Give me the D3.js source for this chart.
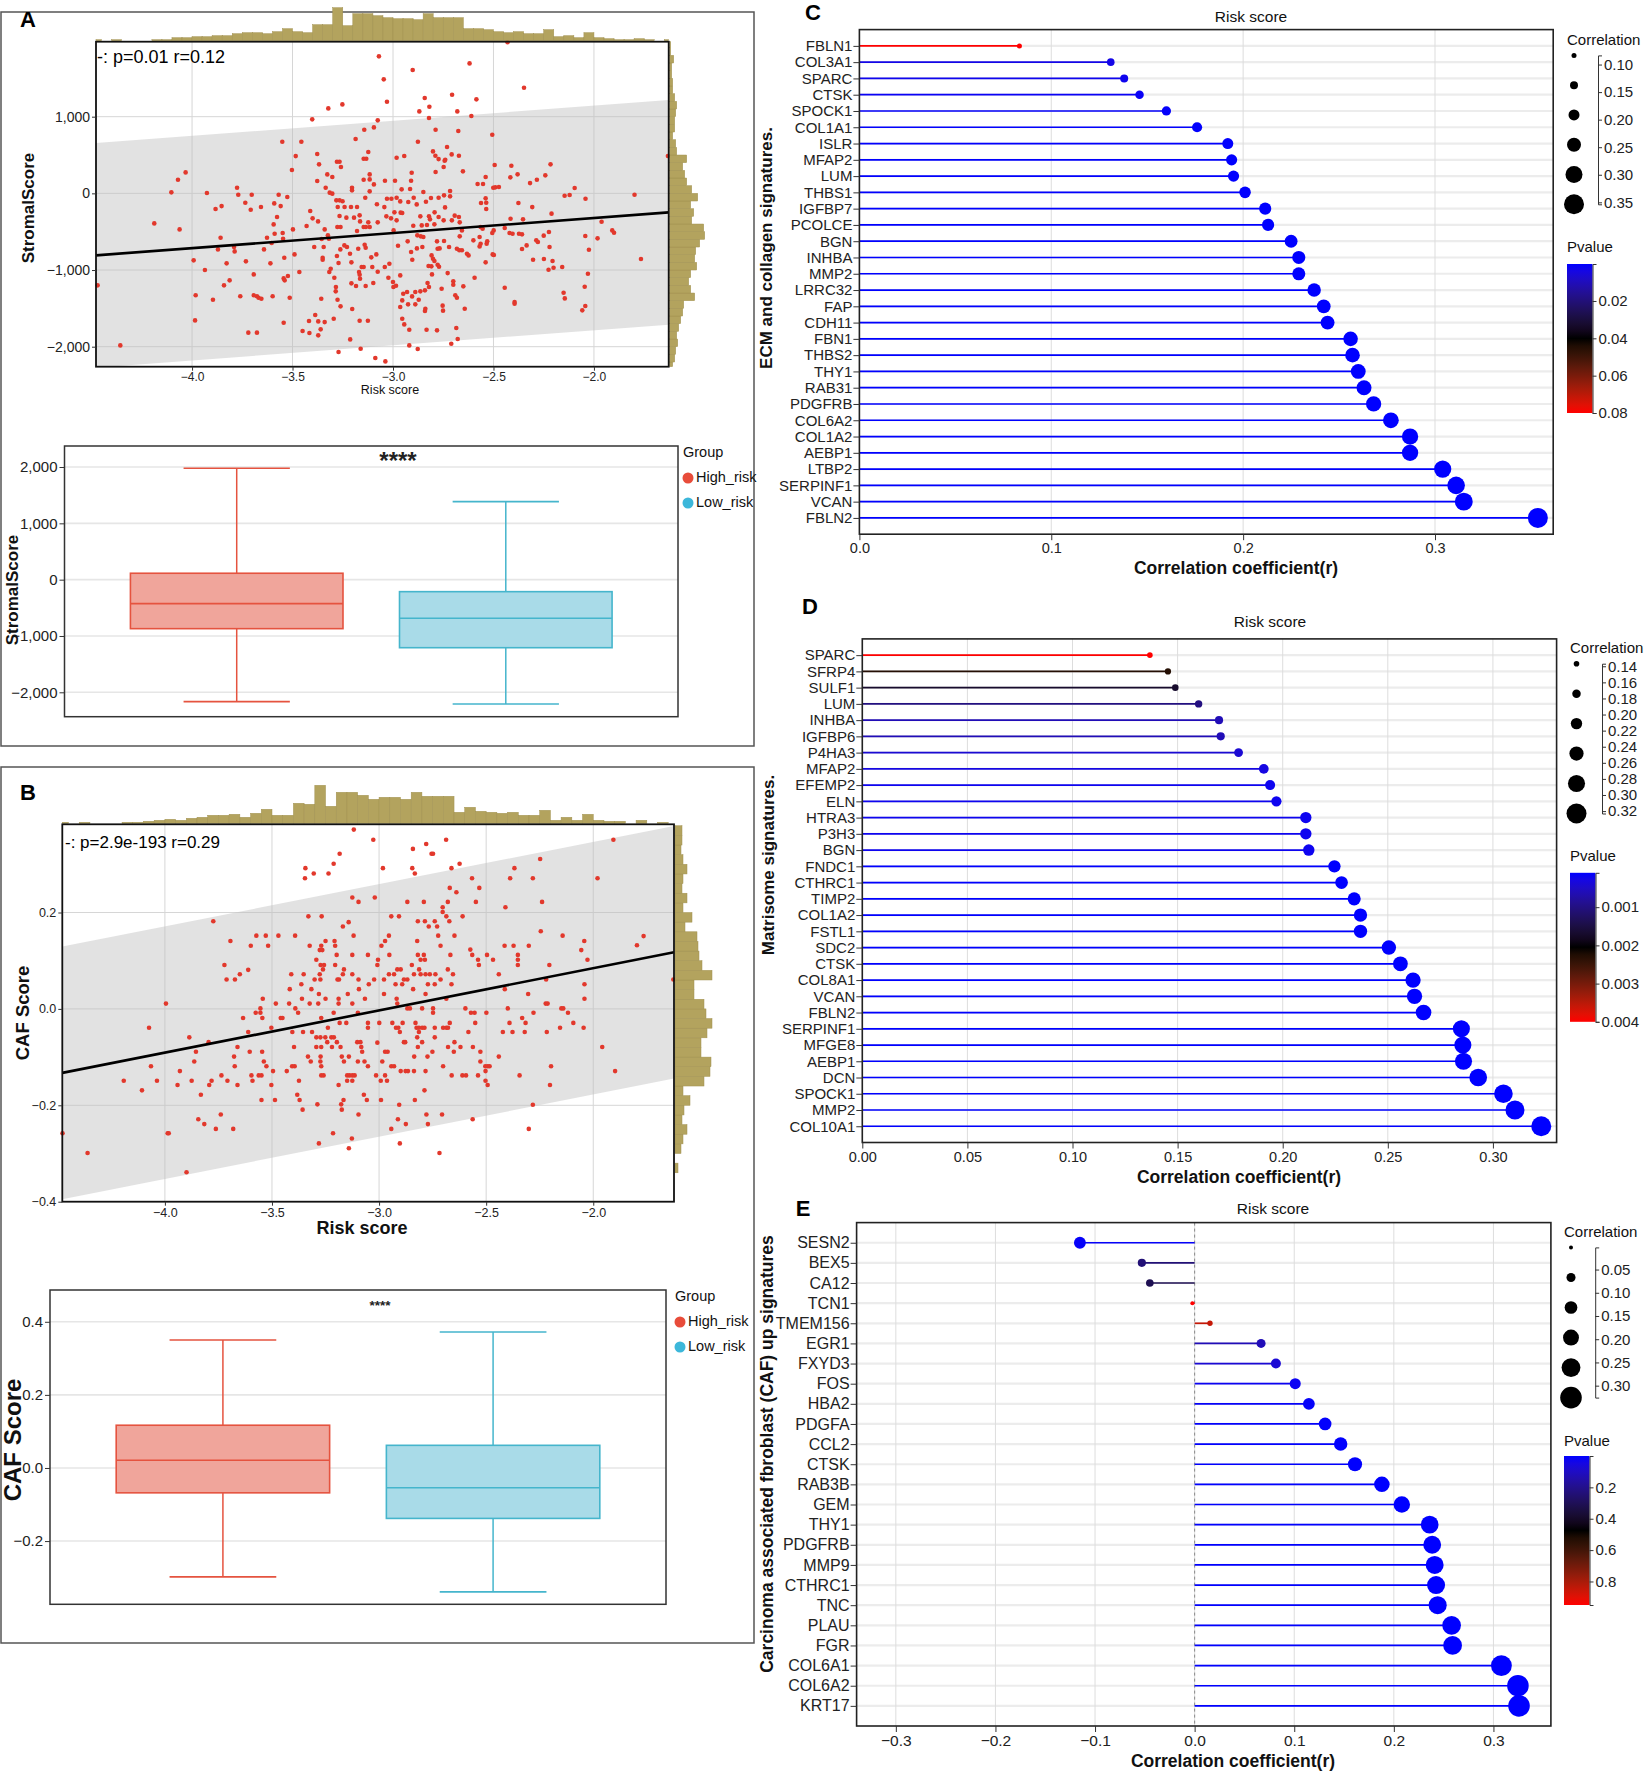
<!DOCTYPE html>
<html lang="en">
<head>
<meta charset="UTF-8">
<title>Risk score, stromal / CAF scores and signature correlations</title>
<script src="https://d3js.org/d3.v7.min.js"></script>
<style>
  body { margin: 0; background: #fff; }
</style>
</head>
<body>
<div id="fig"></div>
<script>
// ---------- data ----------
// A: risk score vs StromalScore
const stromalPoints = [
[-3.070,1787],[-3.322,1108],[-3.252,1160],[-3.402,965],[-3.076,952],[-3.095,860],[-3.143,830],[-3.186,708],[-3.551,673],[-3.456,673],[-3.123,539],[-3.484,486],[-3.377,513],[-3.279,413],[-3.266,413],[-3.368,378],[-3.259,343],[-3.146,452],[-3.133,452],[-3.503,304],[-4.032,273],[-4.070,178],[-4.103,13],[-3.926,4],[-3.776,73],[-3.770,-18],[-3.703,-18],[-3.735,-122],[-3.708,-213],[-3.657,-178],[-3.883,-205],[-3.853,-166],[-3.591,-131],[-3.569,-18],[-3.526,-48],[-3.559,-166],[-4.188,-392],[-4.062,-470],[-3.858,-579],[-3.594,-405],[-3.577,-309],[-3.498,-470],[-3.547,-592],[-3.627,-579],[-3.604,-648],[-3.430,-426],[-3.412,-231],[-3.400,-326],[-3.373,-366],[-3.340,-470],[-3.377,161],[-3.335,73],[-3.327,247],[-3.302,213],[-3.315,9],[-3.302,-4],[-3.282,-91],[-3.266,-91],[-3.251,-104],[-3.275,-178],[-3.241,-178],[-3.204,73],[-3.204,39],[-3.209,-178],[-3.179,-178],[-3.266,-296],[-3.232,-317],[-3.194,-317],[-3.166,-287],[-3.123,-378],[-3.076,-378],[-3.146,178],[-3.116,247],[-3.116,182],[-3.095,117],[-3.116,26],[-3.080,-143],[-3.138,-57],[-3.146,-439],[-3.135,-439],[-3.116,-439],[-3.164,-366],[-3.179,-491],[-3.277,-439],[-3.261,-439],[-3.324,-548],[-3.319,-592],[-3.355,-596],[-3.392,-700],[-3.350,-839],[-3.350,-866],[-3.310,-983],[-3.292,-1100],[-3.284,-1222],[-3.271,-909],[-3.279,-818],[-3.262,-731],[-3.242,-679],[-3.229,-700],[-3.214,-787],[-3.207,-900],[-3.169,-1026],[-3.166,-1061],[-3.164,-1113],[-3.156,-961],[-3.146,-961],[-3.141,-670],[-3.136,-709],[-3.173,-722],[-3.108,-835],[-3.083,-796],[-3.103,-961],[-3.076,-1022],[-3.098,-1170],[-3.136,-1209],[-3.184,-1209],[-3.207,-1174],[-3.357,-1374],[-3.285,-1278],[-3.276,-1387],[-3.261,-1474],[-3.203,-1509],[-3.166,-1661],[-3.125,-1661],[-3.295,-1635],[-3.340,-1679],[-3.372,-1670],[-3.418,-1665],[-3.387,-1587],[-3.360,-1774],[-3.372,-1852],[-3.416,-1822],[-3.450,-1796],[-3.544,-1687],[-3.514,-1361],[-3.599,-1343],[-3.693,-1330],[-3.677,-1343],[-3.669,-1361],[-3.655,-1374],[-3.760,-1343],[-3.693,-1057],[-3.544,-1109],[-3.539,-1135],[-3.523,-1078],[-3.466,-1026],[-3.610,-913],[-3.541,-839],[-3.642,-731],[-3.732,-887],[-3.828,-913],[-3.788,-757],[-3.791,-700],[-3.871,-731],[-3.992,-874],[-3.936,-1000],[-3.841,-1200],[-3.813,-1135],[-3.982,-1330],[-3.896,-1387],[-3.985,-1657],[-3.720,-1817],[-3.677,-1817],[-4.357,-1983],[-4.470,-1200],[-3.271,-2070],[-3.161,-2026],[-3.088,-2148],[-3.213,-1905],[-3.317,-1026],[-3.345,-700],[-3.549,-517],[-3.589,-526],[-3.490,-796],
[-3.046,1487],[-3.030,1195],[-2.902,1608],[-2.619,1695],[-2.348,1378],[-2.842,1243],[-2.819,1130],[-2.869,1069],[-2.821,982],[-2.706,1287],[-2.585,1226],[-2.680,1069],[-2.610,1008],[-2.788,830],[-2.675,813],[-2.876,674],[-2.506,765],[-2.731,604],[-2.801,547],[-2.789,491],[-2.773,447],[-2.743,426],[-2.740,439],[-2.708,508],[-2.672,491],[-2.748,343],[-2.788,278],[-2.652,287],[-2.982,465],[-2.944,487],[-2.907,269],[-2.910,165],[-3.040,165],[-2.990,165],[-2.957,52],[-2.915,56],[-2.849,17],[-3.030,-70],[-3.008,-70],[-2.982,-57],[-3.043,-179],[-2.964,-105],[-2.924,-113],[-2.897,-57],[-2.882,-144],[-2.836,-109],[-2.811,-61],[-2.773,-57],[-2.746,-26],[-2.716,-39],[-2.716,30],[-2.741,-183],[-2.993,-248],[-2.962,-252],[-2.954,-257],[-3.010,-326],[-2.982,-352],[-3.033,-300],[-2.864,-300],[-2.821,-300],[-2.816,-339],[-2.793,-248],[-2.773,-309],[-2.748,-352],[-2.707,-352],[-2.693,-291],[-2.672,-309],[-2.668,-378],[-2.899,-422],[-2.857,-418],[-2.831,-413],[-2.794,-404],[-2.997,-483],[-2.879,-548],[-2.862,-561],[-2.849,-570],[-2.975,-683],[-2.927,-626],[-2.910,-765],[-2.904,-866],[-2.881,-718],[-2.854,-700],[-2.808,-809],[-2.801,-853],[-2.794,-883],[-2.778,-722],[-2.768,-718],[-2.781,-626],[-2.746,-622],[-2.721,-700],[-2.682,-722],[-2.670,-743],[-2.657,-743],[-2.668,-561],[-2.657,-483],[-2.823,-948],[-2.809,-952],[-2.778,-931],[-2.771,-957],[-2.806,-1057],[-2.728,-1040],[-2.700,-1148],[-2.700,-1192],[-2.650,-1213],[-2.828,-1170],[-2.821,-1222],[-2.841,-1265],[-2.889,-1287],[-2.864,-1278],[-2.758,-1244],[-2.690,-1330],[-2.682,-1361],[-2.930,-1287],[-2.949,-1309],[-2.954,-1396],[-2.905,-1344],[-2.925,-1448],[-2.889,-1448],[-2.872,-1387],[-2.839,-1505],[-2.841,-1535],[-2.753,-1465],[-2.751,-1530],[-2.643,-1505],[-2.964,-1483],[-2.954,-1635],[-2.944,-1709],[-2.919,-1779],[-2.833,-1779],[-2.781,-1787],[-2.685,-1757],[-2.678,-1900],[-2.710,-1961],[-2.919,-1983],[-2.877,-2031],[-3.038,-2192],[-2.964,-1070],[-3.000,-1157],[-3.023,-1100],[-2.998,-1222],[-2.985,-1205],[-3.018,-918],[-3.041,-961],[-2.594,-1100],[-2.539,-900],[-2.564,-657],[-2.534,-657],[-2.531,-626],[-2.569,-692],[-2.632,-787],[-2.624,-809],[-2.600,-613],[-2.569,-570],[-2.564,-439],[-2.554,-461],[-2.499,-483],[-2.506,-517],[-2.504,-796],[-2.498,-804],[-2.444,-1231],[-2.395,-1418],[-2.395,-1440],[-2.444,-452],[-2.420,-517],[-2.405,-526],[-2.373,-526],[-2.358,-535],[-2.415,-331],[-2.353,-339],[-2.562,-126],[-2.536,-122],[-2.536,-205],[-2.539,-65],[-2.579,121],[-2.552,121],[-2.539,213],[-2.501,73],[-2.491,78],[-2.473,82],[-2.494,369],[-2.411,360],[-2.416,209],[-2.380,248],[-2.376,-126],[-2.307,-179],[-2.318,134],[-2.284,178],[-2.242,235],[-2.216,378],[-2.211,-265],[-2.287,-613],[-2.279,-635],[-2.335,-679],[-2.358,-726],[-2.303,-866],[-2.250,-552],[-2.224,-505],[-2.221,-700],[-2.249,-857],[-2.206,-883],[-2.226,-996],[-2.201,-970],[-2.158,-961],[-2.151,-1296],[-2.145,-1370],[-2.146,-31],[-2.121,-22],[-2.096,69],[-2.042,-70],[-2.043,-557],[-1.982,-587],[-2.025,-735],[-1.962,-370],[-1.909,-483],[-1.900,-513],[-1.798,-18],[-1.766,-857],[-2.030,-1048],[-2.046,-1218],[-2.043,-1470],[-2.058,-1526],[-1.632,487],[-2.430,1970]
];
const stromalFit = [[-4.478, -809], [-1.628, -248]];
const stromalBand = [[-4.478, 656, -2274], [-1.628, 1217, -1713]];   // [risk, upper, lower]
const stromalHistTop = [1,0,1,0,0,0,1,1,3,3,4,4,5,5,7,8,8,7,9,12,9,8,16,16,33,15,27,27,25,23,22,22,21,27,23,23,23,12,12,11,9,8,9,7,7,11,4,5,3,8,3,2,1,1,2,1,0,1];  // bins of 0.05 from -4.5
const stromalHistRight = [3,5,6,8,7,9,11,13,14,25,21,19,21,27,25,26,30,35,34,22,24,21,28,22,17,15,13,17,7,6,3,5,5,6,7,5,3,3,2,2,4,1,1];  // bins of 100 from -2300
const stromalBox = [
  {group: "High_risk", min: -2165, q1: -870, med: -426, q3: 114, max: 1977},
  {group: "Low_risk",  min: -2208, q1: -1208, med: -686, q3: -213, max: 1385}
];

// B: risk score vs CAF score
const cafPoints = [
[-3.118,0.372],[-3.184,0.322],[-3.212,0.301],[-3.344,0.292],[-3.346,0.271],[-3.305,0.281],[-3.236,0.281],[-3.125,0.231],[-3.096,0.222],[-3.774,0.182],[-3.330,0.192],[-3.268,0.192],[-3.169,0.171],[-3.142,0.180],[-3.694,0.141],[-3.573,0.152],[-3.529,0.152],[-3.470,0.152],[-3.392,0.152],[-3.599,0.131],[-3.518,0.131],[-3.324,0.131],[-3.270,0.131],[-3.250,0.141],[-3.208,0.141],[-3.277,0.122],[-3.265,0.122],[-3.205,0.131],[-3.198,0.112],[-3.119,0.152],[-3.125,0.112],[-3.052,0.112],[-3.722,0.091],[-3.712,0.061],[-3.673,0.061],[-3.650,0.072],[-3.611,0.081],[-3.293,0.102],[-3.273,0.091],[-3.257,0.091],[-3.262,0.082],[-3.205,0.091],[-3.164,0.082],[-3.169,0.072],[-3.410,0.072],[-3.352,0.072],[-3.277,0.072],[-3.363,0.051],[-3.301,0.061],[-3.274,0.061],[-3.187,0.061],[-3.194,0.061],[-3.125,0.072],[-3.096,0.061],[-3.048,0.051],[-3.417,0.041],[-3.316,0.041],[-3.281,0.031],[-3.250,0.021],[-3.543,0.021],[-3.482,0.011],[-3.420,0.011],[-3.391,0.001],[-3.360,0.021],[-3.324,0.011],[-3.284,0.011],[-3.189,0.021],[-3.189,0.011],[-3.146,0.031],[-3.125,0.011],[-3.094,0.041],[-3.066,0.021],[-3.995,0.011],[-3.554,0.001],[-3.576,-0.008],[-3.554,-0.008],[-3.545,-0.019],[-3.635,-0.019],[-3.459,-0.019],[-3.451,-0.019],[-3.378,-0.008],[-3.503,-0.039],[-3.611,-0.048],[-3.405,-0.048],[-3.355,-0.048],[-3.313,-0.048],[-3.270,-0.019],[-3.212,-0.008],[-3.099,-0.008],[-3.239,-0.039],[-3.184,-0.029],[-3.153,-0.029],[-3.052,-0.029],[-3.052,-0.039],[-4.074,-0.039],[-3.886,-0.059],[-3.796,-0.069],[-3.661,-0.079],[-3.855,-0.089],[-3.863,-0.109],[-4.065,-0.119],[-3.930,-0.129],[-3.677,-0.099],[-3.674,-0.119],[-3.604,-0.089],[-3.546,-0.089],[-3.538,-0.109],[-3.526,-0.119],[-3.397,-0.079],[-3.394,-0.119],[-3.406,-0.119],[-3.332,-0.099],[-3.319,-0.109],[-3.293,-0.059],[-3.274,-0.059],[-3.251,-0.059],[-3.223,-0.059],[-3.211,-0.059],[-3.293,-0.079],[-3.270,-0.079],[-3.242,-0.069],[-3.220,-0.079],[-3.273,-0.099],[-3.274,-0.109],[-3.270,-0.119],[-3.197,-0.069],[-3.180,-0.079],[-3.174,-0.099],[-3.164,-0.109],[-3.141,-0.099],[-3.102,-0.069],[-3.087,-0.069],[-3.079,-0.089],[-3.083,-0.079],[-3.099,-0.109],[-3.068,-0.109],[-3.052,-0.119],[-3.431,-0.129],[-3.495,-0.129],[-3.596,-0.138],[-3.562,-0.138],[-3.549,-0.138],[-3.736,-0.138],[-3.708,-0.149],[-3.661,-0.158],[-3.782,-0.149],[-3.793,-0.158],[-3.875,-0.149],[-3.941,-0.158],[-4.037,-0.149],[-4.192,-0.149],[-4.107,-0.169],[-3.832,-0.178],[-3.591,-0.149],[-3.503,-0.158],[-3.374,-0.149],[-3.270,-0.138],[-3.259,-0.138],[-3.189,-0.158],[-3.149,-0.138],[-3.138,-0.138],[-3.125,-0.138],[-3.114,-0.138],[-3.149,-0.149],[-3.125,-0.149],[-3.549,-0.189],[-3.486,-0.189],[-3.382,-0.178],[-3.371,-0.189],[-3.357,-0.209],[-3.288,-0.198],[-3.177,-0.198],[-3.174,-0.209],[-3.166,-0.189],[-3.071,-0.178],[-3.057,-0.189],[-3.096,-0.219],[-3.844,-0.229],[-3.816,-0.239],[-3.762,-0.249],[-3.739,-0.219],[-3.681,-0.249],[-3.987,-0.258],[-3.982,-0.258],[-4.478,-0.258],[-4.361,-0.299],[-3.899,-0.339],[-3.281,-0.279],[-3.215,-0.258],[-3.141,-0.289],[-3.127,-0.269],
[-3.027,0.351],[-2.780,0.342],[-2.687,0.351],[-2.842,0.332],[-2.755,0.322],[-2.748,0.322],[-2.982,0.292],[-2.845,0.292],[-2.833,0.281],[-2.662,0.292],[-2.624,0.301],[-2.566,0.271],[-2.532,0.251],[-2.670,0.251],[-2.639,0.242],[-3.020,0.231],[-2.868,0.222],[-2.791,0.222],[-2.679,0.222],[-2.703,0.211],[-2.703,0.201],[-2.686,0.192],[-2.672,0.182],[-2.943,0.192],[-2.907,0.192],[-2.819,0.182],[-2.786,0.182],[-2.768,0.171],[-2.740,0.182],[-2.729,0.171],[-2.724,0.152],[-2.648,0.152],[-2.610,0.192],[-2.548,0.222],[-2.954,0.152],[-2.972,0.141],[-2.822,0.141],[-2.713,0.131],[-2.989,0.131],[-2.952,0.112],[-3.005,0.102],[-3.008,0.091],[-2.819,0.112],[-2.791,0.112],[-2.806,0.102],[-2.786,0.102],[-2.847,0.091],[-2.667,0.112],[-2.679,0.082],[-2.655,0.072],[-2.915,0.082],[-2.899,0.082],[-2.930,0.072],[-2.954,0.072],[-2.977,0.061],[-3.023,0.061],[-2.884,0.061],[-2.868,0.061],[-2.837,0.072],[-2.813,0.082],[-2.806,0.072],[-2.783,0.072],[-2.763,0.072],[-2.737,0.072],[-2.713,0.061],[-2.977,0.031],[-2.923,0.051],[-2.892,0.051],[-2.841,0.041],[-2.783,0.031],[-2.772,0.051],[-2.740,0.051],[-2.918,0.021],[-2.915,0.011],[-2.868,0.001],[-2.856,0.001],[-2.799,0.001],[-2.748,0.001],[-2.748,-0.008],[-2.686,0.021],[-2.662,0.051],[-2.597,0.001],[-2.571,-0.008],[-2.554,-0.008],[-2.574,0.123],[-2.565,0.112],[-2.538,0.102],[-2.534,0.091],[-2.496,0.112],[-2.468,0.102],[-2.499,-0.008],[-2.441,0.072],[-2.414,0.131],[-2.372,0.131],[-2.301,0.131],[-2.352,0.112],[-2.352,0.102],[-2.352,0.091],[-2.410,0.211],[-2.388,0.271],[-2.368,0.292],[-2.282,0.271],[-2.248,0.311],[-2.239,0.222],[-2.245,0.161],[-2.143,0.152],[-2.056,0.122],[-2.042,0.141],[-2.027,0.102],[-2.205,0.091],[-2.220,0.061],[-2.041,0.051],[-2.041,0.021],[-2.413,0.041],[-2.304,0.031],[-2.399,0.001],[-2.279,-0.008],[-2.222,0.011],[-2.213,0.011],[-2.149,0.001],[-2.140,0.001],[-2.118,-0.008],[-2.093,-0.029],[-2.045,-0.039],[-2.332,-0.019],[-2.316,-0.029],[-2.320,-0.048],[-2.377,-0.048],[-2.422,-0.048],[-2.391,-0.029],[-2.217,-0.048],[-2.155,-0.039],[-1.906,0.351],[-1.980,0.271],[-1.796,0.132],[-1.765,0.151],[-1.958,-0.079],[-1.898,-0.129],[-2.197,-0.119],[-2.202,-0.158],[-2.344,-0.138],[-2.282,-0.199],[-2.301,-0.249],[-2.441,-0.099],[-2.504,-0.119],[-2.493,-0.119],[-2.484,-0.119],[-2.503,-0.129],[-2.503,-0.149],[-2.493,-0.158],[-2.538,-0.138],[-2.527,-0.089],[-2.527,-0.109],[-2.563,-0.229],[-2.611,-0.138],[-2.594,-0.138],[-2.562,-0.079],[-2.583,-0.048],[-2.551,-0.029],[-2.661,-0.138],[-2.651,-0.089],[-2.648,-0.069],[-2.620,-0.079],[-2.678,-0.079],[-2.701,-0.119],[-2.706,-0.219],[-2.751,-0.089],[-2.774,-0.099],[-2.783,-0.129],[-2.788,-0.169],[-2.779,-0.219],[-2.772,-0.239],[-2.718,-0.299],[-2.836,-0.099],[-2.833,-0.189],[-2.875,-0.239],[-2.912,-0.229],[-2.903,-0.279],[-2.943,-0.249],[-2.906,-0.199],[-2.991,-0.189],[-2.899,-0.129],[-2.876,-0.129],[-2.865,-0.129],[-2.837,-0.129],[-2.963,-0.149],[-2.992,-0.149],[-3.014,-0.138],[-2.972,-0.138],[-2.985,-0.109],[-2.943,-0.119],[-2.930,-0.119],[-2.972,-0.089],[-2.960,-0.089],[-2.884,-0.069],[-2.878,-0.069],[-2.822,-0.059],[-2.819,-0.079],[-2.799,-0.069],[-2.921,-0.039],[-2.910,-0.039],[-2.903,-0.048],[-2.938,-0.029],[-2.890,-0.029],[-2.830,-0.029],[-2.825,-0.039],[-2.814,-0.039],[-2.799,-0.039],[-2.788,-0.039],[-2.814,-0.048],[-2.740,-0.039],[-2.740,-0.059],[-2.701,-0.039],[-2.686,-0.039],[-2.678,-0.039],[-2.670,-0.029],[-2.999,-0.029],[-3.008,-0.070],[-1.626,0.061]
];
const cafFit = [[-4.479, -0.1327], [-1.623, 0.1175]];
const cafBand = [[-4.479, 0.1293, -0.3947], [-1.623, 0.3795, -0.1445]];
const cafHistTop = [1,0,1,0,0,0,1,1,2,3,4,3,5,6,8,8,9,6,10,14,8,8,20,19,38,17,31,31,28,24,26,26,24,31,27,27,27,11,16,12,11,10,11,8,8,13,3,6,3,9,3,2,2,0,3,0,1];  // bins of 0.05 from -4.5
const cafHistRight = [0,0,0,3,0,6,8,12,7,9,15,8,29,35,36,26,26,32,37,31,29,19,19,37,27,24,23,22,10,17,8,12,7,8,12,8,6,7,7,0];  // bins of 0.02 from -0.4
const cafBox = [
  {group: "High_risk", min: -0.298, q1: -0.068, med: 0.021, q3: 0.117, max: 0.350},
  {group: "Low_risk",  min: -0.339, q1: -0.138, med: -0.054, q3: 0.062, max: 0.372}
];

// C: ECM and collagen signatures
const ecmGenes = ["FBLN1","COL3A1","SPARC","CTSK","SPOCK1","COL1A1","ISLR","MFAP2","LUM","THBS1","IGFBP7","PCOLCE","BGN","INHBA","MMP2","LRRC32","FAP","CDH11","FBN1","THBS2","THY1","RAB31","PDGFRB","COL6A2","COL1A2","AEBP1","LTBP2","SERPINF1","VCAN","FBLN2"];
const ecmR = [0.0834,0.131,0.138,0.146,0.160,0.176,0.192,0.194,0.195,0.201,0.2115,0.213,0.225,0.229,0.229,0.237,0.242,0.244,0.256,0.257,0.260,0.263,0.268,0.277,0.287,0.287,0.304,0.311,0.315,0.3536];
const ecmP = [0.080,0.0035,0.0025,0.0015,0.0008,0.0005,0.0004,0.0003,0.0003,0.0003,0.0002,0.0002,0.0002,0.0002,0.0002,0.0002,0.0002,0.0002,0.0002,0.0002,0.0002,0.0002,0.0002,0.0002,0.0002,0.0002,0.0002,0.0002,0.0002,0.0002];

// D: Matrisome signatures
const matGenes = ["SPARC","SFRP4","SULF1","LUM","INHBA","IGFBP6","P4HA3","MFAP2","EFEMP2","ELN","HTRA3","P3H3","BGN","FNDC1","CTHRC1","TIMP2","COL1A2","FSTL1","SDC2","CTSK","COL8A1","VCAN","FBLN2","SERPINF1","MFGE8","AEBP1","DCN","SPOCK1","MMP2","COL10A1"];
const matR = [0.1368,0.1454,0.1489,0.160,0.1697,0.1705,0.179,0.191,0.194,0.197,0.211,0.211,0.2124,0.2246,0.228,0.234,0.237,0.237,0.2505,0.256,0.262,0.2627,0.267,0.285,0.2857,0.286,0.293,0.305,0.3105,0.323];
const matP = [0.0040,0.0023,0.0017,0.0010,0.0006,0.0006,0.0004,0.0003,0.0002,0.0002,0.0002,0.0002,0.0002,0.0001,0.0001,0.0001,0.0001,0.0001,0.0001,0.0001,0.0001,0.0001,0.0001,0.0001,0.0001,0.0001,0.0001,0.0001,0.0001,0.0001];

// E: CAF up signatures
const cafGenes = ["SESN2","BEX5","CA12","TCN1","TMEM156","EGR1","FXYD3","FOS","HBA2","PDGFA","CCL2","CTSK","RAB3B","GEM","THY1","PDGFRB","MMP9","CTHRC1","TNC","PLAU","FGR","COL6A1","COL6A2","KRT17"];
const cafR = [-0.1152,-0.053,-0.045,-0.0023,0.0154,0.0667,0.0816,0.101,0.1147,0.131,0.1466,0.161,0.188,0.208,0.236,0.2385,0.241,0.2424,0.244,0.258,0.259,0.308,0.3246,0.3257];
const cafP = [0.01,0.24,0.31,0.95,0.85,0.12,0.07,0.02,0.01,0.004,0.002,0.001,0.0005,0.0003,0.0002,0.0002,0.0002,0.0002,0.0002,0.0002,0.0002,0.0001,0.0001,0.0001];

// ---------- drawing ----------
const FONT = "'Liberation Sans',Arial,Helvetica,sans-serif";
const W = 1649, H = 1772;

const svg = d3.select("#fig").append("svg")
    .attr("width", W).attr("height", H)
    .style("font-family", FONT);
const defs = svg.append("defs");

function styleAxis(sel, size, keepDomain) {
    sel.selectAll("text").style("font-family", FONT).style("font-size", size + "px").attr("fill", "#222");
    sel.selectAll("line").attr("stroke", "#333");
    if (!keepDomain) sel.select(".domain").remove();
    else sel.select(".domain").attr("stroke", "#333");
}

function addText(x, y, txt, size, opts) {
    opts = opts || {};
    const t = svg.append("text")
        .attr("x", x).attr("y", y)
        .attr("text-anchor", opts.anchor || "middle")
        .attr("dominant-baseline", opts.baseline || "middle")
        .style("font-family", FONT)
        .style("font-size", size + "px")
        .style("font-weight", opts.weight || "normal")
        .attr("fill", opts.fill || "#111")
        .text(txt);
    if (opts.rotate) t.attr("transform", `rotate(-90,${x},${y})`);
    return t;
}

function panelFrame(x, y, w, h) {
    svg.append("rect").attr("x", x).attr("y", y).attr("width", w).attr("height", h)
        .attr("fill", "none").attr("stroke", "#555").attr("stroke-width", 1.5);
}

// scatter with regression band and marginal histograms
function drawScatter(o) {
    const x = d3.scaleLinear().domain(o.xDomain).range([o.left, o.right]);
    const y = d3.scaleLinear().domain(o.yDomain).range([o.bottom, o.top]);
    const g = svg.append("g");
    defs.append("clipPath").attr("id", o.id).append("rect")
        .attr("x", o.left).attr("y", o.top).attr("width", o.right - o.left).attr("height", o.bottom - o.top);

    g.append("g").selectAll("line").data(o.xTicks).join("line")
        .attr("x1", d => x(d)).attr("x2", d => x(d)).attr("y1", o.top).attr("y2", o.bottom)
        .attr("stroke", "#d6d6d6").attr("stroke-width", 1);
    g.append("g").selectAll("line").data(o.yTicks).join("line")
        .attr("y1", d => y(d)).attr("y2", d => y(d)).attr("x1", o.left).attr("x2", o.right)
        .attr("stroke", "#d6d6d6").attr("stroke-width", 1);

    g.append("path").datum(o.band)
        .attr("clip-path", `url(#${o.id})`)
        .attr("d", d3.area().x(d => x(d[0])).y0(d => y(d[2])).y1(d => y(d[1])))
        .attr("fill", "#bfbfbf").attr("fill-opacity", 0.45);

    g.append("g").selectAll("circle").data(o.points).join("circle")
        .attr("cx", d => x(d[0])).attr("cy", d => y(d[1])).attr("r", 2.3)
        .attr("fill", "#e2382c");

    g.append("path").datum(o.fit)
        .attr("d", d3.line().x(d => x(d[0])).y(d => y(d[1])))
        .attr("stroke", "#000").attr("stroke-width", 2.6).attr("fill", "none");

    // marginal histograms
    const hs = d3.scaleLinear().domain([0, 40]).range([0, 40]);
    const topBins = o.histTop.map((c, i) => {
        const a = Math.max(o.xDomain[0], o.histTopStart + i * o.histTopStep);
        const b = Math.min(o.xDomain[1], o.histTopStart + (i + 1) * o.histTopStep);
        return {a, b, c};
    }).filter(d => d.b > d.a && d.c > 0);
    g.append("g").selectAll("rect").data(topBins).join("rect")
        .attr("x", d => x(d.a)).attr("width", d => x(d.b) - x(d.a))
        .attr("y", d => o.top - 1 - hs(d.c)).attr("height", d => hs(d.c))
        .attr("fill", "#b3a35e").attr("stroke", "#a19150").attr("stroke-width", 0.5);
    const rightBins = o.histRight.map((c, i) => {
        const a = Math.max(o.yDomain[0], o.histRightStart + i * o.histRightStep);
        const b = Math.min(o.yDomain[1], o.histRightStart + (i + 1) * o.histRightStep);
        return {a, b, c};
    }).filter(d => d.b > d.a && d.c > 0);
    g.append("g").selectAll("rect").data(rightBins).join("rect")
        .attr("y", d => y(d.b)).attr("height", d => y(d.a) - y(d.b))
        .attr("x", o.right + 1).attr("width", d => hs(d.c))
        .attr("fill", "#b3a35e").attr("stroke", "#a19150").attr("stroke-width", 0.5);

    g.append("rect").attr("x", o.left).attr("y", o.top)
        .attr("width", o.right - o.left).attr("height", o.bottom - o.top)
        .attr("fill", "none").attr("stroke", "#111").attr("stroke-width", 1.8);

    const xa = g.append("g").attr("transform", `translate(0,${o.bottom})`)
        .call(d3.axisBottom(x).tickValues(o.xTicks).tickFormat(d3.format(".1f")).tickSize(4).tickPadding(2));
    styleAxis(xa, o.tickFontX);
    const ya = g.append("g").attr("transform", `translate(${o.left},0)`)
        .call(d3.axisLeft(y).tickValues(o.yTicks).tickFormat(o.yFormat).tickSize(4).tickPadding(2));
    styleAxis(ya, o.tickFontY);

    addText(o.annot[0], o.annot[1], o.annotText, o.annotSize, {anchor: "start", baseline: "alphabetic", fill: "#000"});
    addText(o.xLab[0], o.xLab[1], o.xLabText, o.xLabSize, {weight: o.xLabWeight || "normal"});
    addText(o.yLab[0], o.yLab[1], o.yLabText, o.yLabSize, {weight: "bold", rotate: true});
}

// two-group box plot
function drawBox(o) {
    const y = d3.scaleLinear().domain(o.yDomain).range([o.bottom, o.top]);
    const x = d3.scalePoint().domain(o.stats.map(d => d.group)).range([o.left, o.right]).padding(0.64);
    const bw = x.step() * 0.79, cw = x.step() * 0.395;
    const colors = {High_risk: {fill: "#f0a59b", stroke: "#e5533f"}, Low_risk: {fill: "#a9dbe8", stroke: "#45b5cc"}};
    const g = svg.append("g");

    g.append("g").selectAll("line").data(o.yTicks).join("line")
        .attr("x1", o.left).attr("x2", o.right).attr("y1", d => y(d)).attr("y2", d => y(d))
        .attr("stroke", "#e6e6e6").attr("stroke-width", 1.6);

    const bx = g.selectAll(".bx").data(o.stats).join("g");
    bx.append("line").attr("x1", d => x(d.group)).attr("x2", d => x(d.group))
        .attr("y1", d => y(d.max)).attr("y2", d => y(d.q3))
        .attr("stroke", d => colors[d.group].stroke).attr("stroke-width", 1.5);
    bx.append("line").attr("x1", d => x(d.group)).attr("x2", d => x(d.group))
        .attr("y1", d => y(d.q1)).attr("y2", d => y(d.min))
        .attr("stroke", d => colors[d.group].stroke).attr("stroke-width", 1.5);
    ["max", "min"].forEach(k => {
        bx.append("line").attr("x1", d => x(d.group) - cw / 2).attr("x2", d => x(d.group) + cw / 2)
            .attr("y1", d => y(d[k])).attr("y2", d => y(d[k]))
            .attr("stroke", d => colors[d.group].stroke).attr("stroke-width", 1.6);
    });
    bx.append("rect").attr("x", d => x(d.group) - bw / 2).attr("width", bw)
        .attr("y", d => y(d.q3)).attr("height", d => y(d.q1) - y(d.q3))
        .attr("fill", d => colors[d.group].fill)
        .attr("stroke", d => colors[d.group].stroke).attr("stroke-width", 1.6);
    bx.append("line").attr("x1", d => x(d.group) - bw / 2).attr("x2", d => x(d.group) + bw / 2)
        .attr("y1", d => y(d.med)).attr("y2", d => y(d.med))
        .attr("stroke", d => colors[d.group].stroke).attr("stroke-width", 1.6);

    g.append("rect").attr("x", o.left).attr("y", o.top)
        .attr("width", o.right - o.left).attr("height", o.bottom - o.top)
        .attr("fill", "none").attr("stroke", "#333").attr("stroke-width", 1.5);
    const ya = g.append("g").attr("transform", `translate(${o.left},0)`)
        .call(d3.axisLeft(y).tickValues(o.yTicks).tickFormat(o.yFormat).tickSize(5).tickPadding(2));
    styleAxis(ya, o.tickFont);

    addText(o.star[0], o.star[1], "****", o.starSize, {weight: "bold", fill: "#222"});
    // legend
    addText(o.legend[0], o.legend[1], "Group", o.legendSize, {anchor: "start"});
    o.stats.forEach((d, i) => {
        const ly = o.legend[1] + o.legendGap * (i + 1);
        svg.append("circle").attr("cx", o.legend[0] + 5).attr("cy", ly).attr("r", 5.5)
            .attr("fill", i === 0 ? "#e84c3a" : "#3cb7da");
        addText(o.legend[0] + 13, ly, d.group, o.legendSize, {anchor: "start"});
    });
    addText(o.yLab[0], o.yLab[1], o.yLabText, o.yLabSize, {weight: "bold", rotate: true});
}

// lollipop chart of correlation coefficients coloured by p value
function drawLollipop(o) {
    const x = d3.scaleLinear().domain(o.xDomain).range([o.left, o.right]);
    const y = d3.scalePoint().domain(o.genes).range([o.top, o.bottom]).padding(1);
    const absR = o.r.map(Math.abs);
    const rExt = d3.extent(absR);
    const size = d3.scalePow().exponent(o.sizeExp).domain(rExt).range(o.sizeRange);
    const pExt = d3.extent(o.p);
    const color = d3.scaleLinear().domain([pExt[0], (pExt[0] + pExt[1]) / 2, pExt[1]])
        .range(["#0000ff", "#000000", "#ff0000"]).interpolate(d3.interpolateLab);
    const rows = o.genes.map((gname, i) => ({gene: gname, r: o.r[i], a: absR[i], p: o.p[i]}));
    const g = svg.append("g");

    g.append("g").selectAll("line").data(o.genes).join("line")
        .attr("x1", o.left).attr("x2", o.right).attr("y1", d => y(d)).attr("y2", d => y(d))
        .attr("stroke", "#ececec").attr("stroke-width", 2.2);
    g.append("g").selectAll("line").data(o.xTicks).join("line")
        .attr("x1", d => x(d)).attr("x2", d => x(d)).attr("y1", o.top).attr("y2", o.bottom)
        .attr("stroke", "#dddddd").attr("stroke-width", 1);
    if (o.zeroLine) {
        g.append("line").attr("x1", x(0)).attr("x2", x(0)).attr("y1", o.top).attr("y2", o.bottom)
            .attr("stroke", "#8a8a8a").attr("stroke-width", 1).attr("stroke-dasharray", "3,3");
    }

    g.append("g").selectAll("line").data(rows).join("line")
        .attr("x1", x(0)).attr("x2", d => x(d.r)).attr("y1", d => y(d.gene)).attr("y2", d => y(d.gene))
        .attr("stroke", d => color(d.p)).attr("stroke-width", 1.7);
    g.append("g").selectAll("circle").data(rows).join("circle")
        .attr("cx", d => x(d.r)).attr("cy", d => y(d.gene)).attr("r", d => size(d.a))
        .attr("fill", d => color(d.p));

    g.append("rect").attr("x", o.left).attr("y", o.top)
        .attr("width", o.right - o.left).attr("height", o.bottom - o.top)
        .attr("fill", "none").attr("stroke", "#222").attr("stroke-width", 1.6);
    const xa = g.append("g").attr("transform", `translate(0,${o.bottom})`)
        .call(d3.axisBottom(x).tickValues(o.xTicks).tickFormat(d3.format(o.xFormat)).tickSize(6).tickPadding(3));
    styleAxis(xa, o.tickFont);
    const ya = g.append("g").attr("transform", `translate(${o.left},0)`)
        .call(d3.axisLeft(y).tickSize(6).tickPadding(1));
    styleAxis(ya, o.geneFont);

    addText(o.title[0], o.title[1], "Risk score", 15.5);
    addText(o.xLab[0], o.xLab[1], "Correlation coefficient(r)", 17.5, {weight: "bold"});
    addText(o.yLab[0], o.yLab[1], o.yLabText, o.yLabSize, {weight: "bold", rotate: true});
    addText(o.letter[0], o.letter[1], o.letterText, 22, {weight: "bold", fill: "#000"});

    // size legend
    const L = o.sizeLegend;
    addText(L.x, L.titleY, "Correlation", 15, {anchor: "start"});
    const ls = d3.scaleLinear().domain(rExt).range([L.y0, L.y1]);
    const circVals = d3.range(6).map(i => rExt[0] + i * (rExt[1] - rExt[0]) / 5);
    svg.append("g").selectAll("circle").data(circVals).join("circle")
        .attr("cx", L.cx).attr("cy", d => ls(d)).attr("r", d => size(d)).attr("fill", "#000");
    const la = svg.append("g").attr("transform", `translate(${L.axisX},0)`)
        .call(d3.axisRight(ls).tickValues(L.ticks).tickFormat(d3.format(".2f")).tickSize(4).tickSizeOuter(4).tickPadding(2));
    styleAxis(la, 15, true);

    // p value colour bar
    const C = o.colorBar;
    addText(C.x, C.titleY, "Pvalue", 15, {anchor: "start"});
    const gid = o.id + "grad";
    const grad = defs.append("linearGradient").attr("id", gid)
        .attr("x1", 0).attr("x2", 0).attr("y1", 0).attr("y2", 1);
    d3.range(0, 1.0001, 0.05).forEach(t => {
        grad.append("stop").attr("offset", t).attr("stop-color", color(pExt[0] + t * (pExt[1] - pExt[0])));
    });
    svg.append("rect").attr("x", C.x).attr("y", C.y0).attr("width", C.w).attr("height", C.y1 - C.y0)
        .attr("fill", `url(#${gid})`);
    const cs = d3.scaleLinear().domain(pExt).range([C.y0, C.y1]);
    const ca = svg.append("g").attr("transform", `translate(${C.x + C.w},0)`)
        .call(d3.axisRight(cs).tickValues(C.ticks).tickFormat(d3.format(C.format)).tickSize(4).tickSizeOuter(4).tickPadding(2));
    styleAxis(ca, 15, true);
}

// ---------- panel frames and letters ----------
panelFrame(1, 12, 753, 734);
panelFrame(1, 767, 753, 876);
addText(28, 21, "A", 22, {weight: "bold", fill: "#000"});
addText(28, 794, "B", 22, {weight: "bold", fill: "#000"});

drawScatter({
    id: "clipA", points: stromalPoints, fit: stromalFit, band: stromalBand,
    left: 96, right: 668.7, top: 41.7, bottom: 366.7,
    xDomain: [-4.478, -1.628], yDomain: [-2261, 1978],
    xTicks: [-4.0, -3.5, -3.0, -2.5, -2.0], yTicks: [-2000, -1000, 0, 1000],
    yFormat: d3.format(","), tickFontX: 12, tickFontY: 14,
    histTop: stromalHistTop, histTopStart: -4.5, histTopStep: 0.05,
    histRight: stromalHistRight, histRightStart: -2300, histRightStep: 100,
    annot: [97, 63], annotText: "-: p=0.01 r=0.12", annotSize: 18,
    xLab: [390, 391], xLabText: "Risk score", xLabSize: 12.5,
    yLab: [30, 208], yLabText: "StromalScore", yLabSize: 17
});

drawBox({
    stats: stromalBox, left: 64.5, right: 678, top: 446, bottom: 716.7,
    yDomain: [-2433, 2373], yTicks: [-2000, -1000, 0, 1000, 2000], yFormat: d3.format(","), tickFont: 15,
    star: [398, 463], starSize: 24,
    legend: [683, 453], legendGap: 25, legendSize: 14.5,
    yLab: [14, 590], yLabText: "StromalScore", yLabSize: 17
});

drawScatter({
    id: "clipB", points: cafPoints, fit: cafFit, band: cafBand,
    left: 62.3, right: 674, top: 824.3, bottom: 1201.7,
    xDomain: [-4.479, -1.623], yDomain: [-0.4, 0.383],
    xTicks: [-4.0, -3.5, -3.0, -2.5, -2.0], yTicks: [-0.4, -0.2, 0.0, 0.2],
    yFormat: d3.format(".1f"), tickFontX: 12.5, tickFontY: 12.5,
    histTop: cafHistTop, histTopStart: -4.5, histTopStep: 0.05,
    histRight: cafHistRight, histRightStart: -0.4, histRightStep: 0.02,
    annot: [65, 848], annotText: "-: p=2.9e-193 r=0.29", annotSize: 17,
    xLab: [362, 1229], xLabText: "Risk score", xLabSize: 18, xLabWeight: "bold",
    yLab: [24, 1013], yLabText: "CAF Score", yLabSize: 18.5
});

drawBox({
    stats: cafBox, left: 50, right: 666, top: 1290, bottom: 1604.3,
    yDomain: [-0.373, 0.487], yTicks: [-0.2, 0.0, 0.2, 0.4], yFormat: d3.format(".1f"), tickFont: 15,
    star: [380, 1306], starSize: 13.5,
    legend: [675, 1297], legendGap: 25, legendSize: 14.5,
    yLab: [15, 1440], yLabText: "CAF Score", yLabSize: 24
});

drawLollipop({
    id: "C", genes: ecmGenes, r: ecmR, p: ecmP,
    left: 859.4, right: 1553.2, top: 29.6, bottom: 534.2,
    xDomain: [0, 0.3616], xTicks: [0, 0.1, 0.2, 0.3], xFormat: ".1f",
    sizeExp: 1, sizeRange: [2.5, 10], geneFont: 15, tickFont: 14.5,
    title: [1251, 18], xLab: [1236, 569], yLab: [768, 248], yLabText: "ECM and collagen signatures.", yLabSize: 17,
    letter: [813, 14], letterText: "C",
    sizeLegend: {x: 1567, titleY: 41, cx: 1574, y0: 55.4, y1: 204.3, axisX: 1598, ticks: [0.10, 0.15, 0.20, 0.25, 0.30, 0.35]},
    colorBar: {x: 1567, titleY: 248, y0: 264, y1: 413, w: 25.5, ticks: [0.02, 0.04, 0.06, 0.08], format: ".2f"}
});

drawLollipop({
    id: "D", genes: matGenes, r: matR, p: matP,
    left: 862.3, right: 1556.6, top: 638.9, bottom: 1142.5,
    xDomain: [0, 0.3303], xTicks: [0, 0.05, 0.10, 0.15, 0.20, 0.25, 0.30], xFormat: ".2f",
    sizeExp: 1, sizeRange: [2.8, 10], geneFont: 15, tickFont: 14.5,
    title: [1270, 623], xLab: [1239, 1178], yLab: [770, 865], yLabText: "Matrisome signatures.", yLabSize: 17,
    letter: [810, 608], letterText: "D",
    sizeLegend: {x: 1570, titleY: 649, cx: 1576.5, y0: 663.7, y1: 813.5, axisX: 1602, ticks: [0.14, 0.16, 0.18, 0.20, 0.22, 0.24, 0.26, 0.28, 0.30, 0.32]},
    colorBar: {x: 1570, titleY: 857.5, y0: 872.8, y1: 1021.8, w: 25.5, ticks: [0.001, 0.002, 0.003, 0.004], format: ".3f"}
});

drawLollipop({
    id: "E", genes: cafGenes, r: cafR, p: cafP,
    left: 856.6, right: 1550.9, top: 1222.6, bottom: 1726,
    xDomain: [-0.3394, 0.3577], xTicks: [-0.3, -0.2, -0.1, 0, 0.1, 0.2, 0.3], xFormat: ".1f",
    sizeExp: 0.75, sizeRange: [2, 10.8], zeroLine: true, geneFont: 16, tickFont: 15.5,
    title: [1273, 1210], xLab: [1233, 1762], yLab: [768, 1454], yLabText: "Carcinoma associated fbroblast (CAF) up signatures", yLabSize: 17.5,
    letter: [803, 1210], letterText: "E",
    sizeLegend: {x: 1564, titleY: 1232.6, cx: 1571, y0: 1247.4, y1: 1397.6, axisX: 1595.2, ticks: [0.05, 0.10, 0.15, 0.20, 0.25, 0.30]},
    colorBar: {x: 1564, titleY: 1442, y0: 1456, y1: 1605, w: 25.5, ticks: [0.2, 0.4, 0.6, 0.8], format: ".1f"}
});
</script>
</body>
</html>
